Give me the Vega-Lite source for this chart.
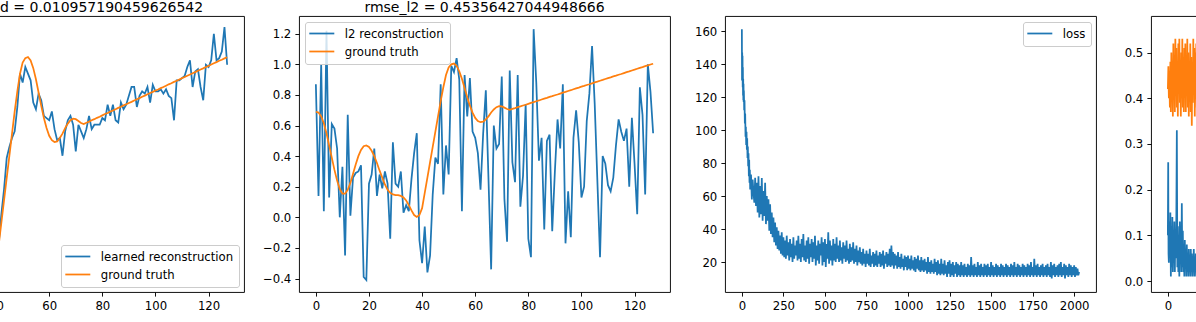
{
"$schema": "https://vega.github.io/schema/vega-lite/v6.json",
"usermeta": {"embedOptions": {"actions": false}},
"background": "white",
"autosize": {"type": "pad"},
"padding": {"left": -128, "top": 0, "right": -326, "bottom": 0},
"bounds": "flush",
"spacing": 55,
"resolve": {"scale": {"x": "independent", "y": "independent", "color": "independent"}, "legend": {"color": "independent"}},
"config": {
  "font": "DejaVu Sans",
  "view": {"stroke": "black", "strokeWidth": 0.93},
  "axis": {"domain": false, "grid": false, "ticks": true, "tickColor": "black", "tickSize": 4.1, "tickWidth": 0.93, "labelFont": "DejaVu Sans", "labelFontSize": 11.7, "labelColor": "black", "labelPadding": 4.1, "labelFlush": false, "labelOverlap": false},
  "title": {"font": "DejaVu Sans", "fontSize": 14, "fontWeight": "normal", "color": "black", "anchor": "middle", "frame": "group", "offset": 1, "baseline": "alphabetic"},
  "legend": {"labelFont": "DejaVu Sans", "labelFontSize": 11.7, "labelColor": "black", "symbolType": "M-2.5,0H2.5", "symbolSize": 100, "symbolStrokeWidth": 1.75, "symbolOffset": 5.3, "labelOffset": 17, "padding": 5.5, "rowPadding": 5, "fillColor": "rgba(255,255,255,0.8)", "strokeColor": "#cccccc", "cornerRadius": 2.5, "offset": 5.5}
},
"datasets": {
"signals": [
{"x":0,"y":0.69,"series":"ground truth"},{"x":1,"y":0.685,"series":"ground truth"},{"x":2,"y":0.66,"series":"ground truth"},{"x":3,"y":0.615,"series":"ground truth"},{"x":4,"y":0.55,"series":"ground truth"},{"x":5,"y":0.47,"series":"ground truth"},{"x":6,"y":0.39,"series":"ground truth"},{"x":7,"y":0.31,"series":"ground truth"},{"x":8,"y":0.24,"series":"ground truth"},{"x":9,"y":0.185,"series":"ground truth"},
{"x":10,"y":0.155,"series":"ground truth"},{"x":11,"y":0.155,"series":"ground truth"},{"x":12,"y":0.18,"series":"ground truth"},{"x":13,"y":0.225,"series":"ground truth"},{"x":14,"y":0.285,"series":"ground truth"},{"x":15,"y":0.345,"series":"ground truth"},{"x":16,"y":0.40,"series":"ground truth"},{"x":17,"y":0.44,"series":"ground truth"},{"x":18,"y":0.465,"series":"ground truth"},{"x":19,"y":0.47,"series":"ground truth"},
{"x":20,"y":0.46,"series":"ground truth"},{"x":21,"y":0.435,"series":"ground truth"},{"x":22,"y":0.40,"series":"ground truth"},{"x":23,"y":0.355,"series":"ground truth"},{"x":24,"y":0.305,"series":"ground truth"},{"x":25,"y":0.26,"series":"ground truth"},{"x":26,"y":0.215,"series":"ground truth"},{"x":27,"y":0.18,"series":"ground truth"},{"x":28,"y":0.16,"series":"ground truth"},{"x":29,"y":0.15,"series":"ground truth"},
{"x":30,"y":0.145,"series":"ground truth"},{"x":31,"y":0.145,"series":"ground truth"},{"x":32,"y":0.14,"series":"ground truth"},{"x":33,"y":0.13,"series":"ground truth"},{"x":34,"y":0.11,"series":"ground truth"},{"x":35,"y":0.08,"series":"ground truth"},{"x":36,"y":0.045,"series":"ground truth"},{"x":37,"y":0.015,"series":"ground truth"},{"x":38,"y":0.003,"series":"ground truth"},{"x":39,"y":0.015,"series":"ground truth"},
{"x":40,"y":0.06,"series":"ground truth"},{"x":41,"y":0.16,"series":"ground truth"},{"x":42,"y":0.26,"series":"ground truth"},{"x":43,"y":0.36,"series":"ground truth"},{"x":44,"y":0.46,"series":"ground truth"},{"x":45,"y":0.56,"series":"ground truth"},{"x":46,"y":0.66,"series":"ground truth"},{"x":47,"y":0.76,"series":"ground truth"},{"x":48,"y":0.85,"series":"ground truth"},{"x":49,"y":0.93,"series":"ground truth"},
{"x":50,"y":0.98,"series":"ground truth"},{"x":51,"y":1.0,"series":"ground truth"},{"x":52,"y":1.005,"series":"ground truth"},{"x":53,"y":0.99,"series":"ground truth"},{"x":54,"y":0.955,"series":"ground truth"},{"x":55,"y":0.905,"series":"ground truth"},{"x":56,"y":0.845,"series":"ground truth"},{"x":57,"y":0.785,"series":"ground truth"},{"x":58,"y":0.73,"series":"ground truth"},{"x":59,"y":0.685,"series":"ground truth"},
{"x":60,"y":0.65,"series":"ground truth"},{"x":61,"y":0.63,"series":"ground truth"},{"x":62,"y":0.622,"series":"ground truth"},{"x":63,"y":0.625,"series":"ground truth"},{"x":64,"y":0.64,"series":"ground truth"},{"x":65,"y":0.66,"series":"ground truth"},{"x":66,"y":0.685,"series":"ground truth"},{"x":67,"y":0.705,"series":"ground truth"},{"x":68,"y":0.72,"series":"ground truth"},{"x":69,"y":0.727,"series":"ground truth"},
{"x":70,"y":0.725,"series":"ground truth"},{"x":71,"y":0.717,"series":"ground truth"},{"x":72,"y":0.708,"series":"ground truth"},{"x":73,"y":0.703,"series":"ground truth"},{"x":74,"y":0.709,"series":"ground truth"},{"x":75,"y":0.714,"series":"ground truth"},{"x":76,"y":0.72,"series":"ground truth"},{"x":77,"y":0.725,"series":"ground truth"},{"x":78,"y":0.731,"series":"ground truth"},{"x":79,"y":0.736,"series":"ground truth"},
{"x":80,"y":0.742,"series":"ground truth"},{"x":81,"y":0.748,"series":"ground truth"},{"x":82,"y":0.753,"series":"ground truth"},{"x":83,"y":0.759,"series":"ground truth"},{"x":84,"y":0.764,"series":"ground truth"},{"x":85,"y":0.77,"series":"ground truth"},{"x":86,"y":0.776,"series":"ground truth"},{"x":87,"y":0.781,"series":"ground truth"},{"x":88,"y":0.787,"series":"ground truth"},{"x":89,"y":0.792,"series":"ground truth"},
{"x":90,"y":0.798,"series":"ground truth"},{"x":91,"y":0.803,"series":"ground truth"},{"x":92,"y":0.809,"series":"ground truth"},{"x":93,"y":0.815,"series":"ground truth"},{"x":94,"y":0.82,"series":"ground truth"},{"x":95,"y":0.826,"series":"ground truth"},{"x":96,"y":0.831,"series":"ground truth"},{"x":97,"y":0.837,"series":"ground truth"},{"x":98,"y":0.843,"series":"ground truth"},{"x":99,"y":0.848,"series":"ground truth"},
{"x":100,"y":0.854,"series":"ground truth"},{"x":101,"y":0.859,"series":"ground truth"},{"x":102,"y":0.865,"series":"ground truth"},{"x":103,"y":0.87,"series":"ground truth"},{"x":104,"y":0.876,"series":"ground truth"},{"x":105,"y":0.882,"series":"ground truth"},{"x":106,"y":0.887,"series":"ground truth"},{"x":107,"y":0.893,"series":"ground truth"},{"x":108,"y":0.898,"series":"ground truth"},{"x":109,"y":0.904,"series":"ground truth"},
{"x":110,"y":0.91,"series":"ground truth"},{"x":111,"y":0.915,"series":"ground truth"},{"x":112,"y":0.921,"series":"ground truth"},{"x":113,"y":0.926,"series":"ground truth"},{"x":114,"y":0.932,"series":"ground truth"},{"x":115,"y":0.937,"series":"ground truth"},{"x":116,"y":0.943,"series":"ground truth"},{"x":117,"y":0.949,"series":"ground truth"},{"x":118,"y":0.954,"series":"ground truth"},{"x":119,"y":0.96,"series":"ground truth"},
{"x":120,"y":0.965,"series":"ground truth"},{"x":121,"y":0.971,"series":"ground truth"},{"x":122,"y":0.977,"series":"ground truth"},{"x":123,"y":0.982,"series":"ground truth"},{"x":124,"y":0.988,"series":"ground truth"},{"x":125,"y":0.993,"series":"ground truth"},{"x":126,"y":0.999,"series":"ground truth"},{"x":127,"y":1.004,"series":"ground truth"},
{"x":0,"y":0.87,"series":"l2 reconstruction"},{"x":1,"y":0.14,"series":"l2 reconstruction"},{"x":2,"y":1.0,"series":"l2 reconstruction"},{"x":3,"y":0.04,"series":"l2 reconstruction"},{"x":4,"y":1.22,"series":"l2 reconstruction"},{"x":5,"y":0.13,"series":"l2 reconstruction"},{"x":6,"y":0.61,"series":"l2 reconstruction"},{"x":7,"y":0.58,"series":"l2 reconstruction"},{"x":8,"y":0.45,"series":"l2 reconstruction"},{"x":9,"y":0.0,"series":"l2 reconstruction"},
{"x":10,"y":0.33,"series":"l2 reconstruction"},{"x":11,"y":-0.25,"series":"l2 reconstruction"},{"x":12,"y":0.67,"series":"l2 reconstruction"},{"x":13,"y":0.01,"series":"l2 reconstruction"},{"x":14,"y":0.26,"series":"l2 reconstruction"},{"x":15,"y":0.29,"series":"l2 reconstruction"},{"x":16,"y":0.30,"series":"l2 reconstruction"},{"x":17,"y":0.34,"series":"l2 reconstruction"},{"x":18,"y":-0.39,"series":"l2 reconstruction"},{"x":19,"y":-0.41,"series":"l2 reconstruction"},
{"x":20,"y":0.22,"series":"l2 reconstruction"},{"x":21,"y":0.28,"series":"l2 reconstruction"},{"x":22,"y":0.45,"series":"l2 reconstruction"},{"x":23,"y":0.14,"series":"l2 reconstruction"},{"x":24,"y":0.28,"series":"l2 reconstruction"},{"x":25,"y":0.19,"series":"l2 reconstruction"},{"x":26,"y":0.30,"series":"l2 reconstruction"},{"x":27,"y":0.22,"series":"l2 reconstruction"},{"x":28,"y":-0.14,"series":"l2 reconstruction"},{"x":29,"y":0.49,"series":"l2 reconstruction"},
{"x":30,"y":0.22,"series":"l2 reconstruction"},{"x":31,"y":0.20,"series":"l2 reconstruction"},{"x":32,"y":0.30,"series":"l2 reconstruction"},{"x":33,"y":0.03,"series":"l2 reconstruction"},{"x":34,"y":0.08,"series":"l2 reconstruction"},{"x":35,"y":0.04,"series":"l2 reconstruction"},{"x":36,"y":0.25,"series":"l2 reconstruction"},{"x":37,"y":0.42,"series":"l2 reconstruction"},{"x":38,"y":0.55,"series":"l2 reconstruction"},{"x":39,"y":-0.15,"series":"l2 reconstruction"},
{"x":40,"y":-0.30,"series":"l2 reconstruction"},{"x":41,"y":-0.06,"series":"l2 reconstruction"},{"x":42,"y":-0.36,"series":"l2 reconstruction"},{"x":43,"y":-0.25,"series":"l2 reconstruction"},{"x":44,"y":0.15,"series":"l2 reconstruction"},{"x":45,"y":0.39,"series":"l2 reconstruction"},{"x":46,"y":0.35,"series":"l2 reconstruction"},{"x":47,"y":0.87,"series":"l2 reconstruction"},{"x":48,"y":0.15,"series":"l2 reconstruction"},{"x":49,"y":0.47,"series":"l2 reconstruction"},
{"x":50,"y":0.28,"series":"l2 reconstruction"},{"x":51,"y":0.99,"series":"l2 reconstruction"},{"x":52,"y":0.95,"series":"l2 reconstruction"},{"x":53,"y":1.04,"series":"l2 reconstruction"},{"x":54,"y":0.90,"series":"l2 reconstruction"},{"x":55,"y":0.04,"series":"l2 reconstruction"},{"x":56,"y":0.93,"series":"l2 reconstruction"},{"x":57,"y":0.66,"series":"l2 reconstruction"},{"x":58,"y":0.91,"series":"l2 reconstruction"},{"x":59,"y":0.56,"series":"l2 reconstruction"},
{"x":60,"y":0.52,"series":"l2 reconstruction"},{"x":61,"y":0.42,"series":"l2 reconstruction"},{"x":62,"y":0.18,"series":"l2 reconstruction"},{"x":63,"y":0.55,"series":"l2 reconstruction"},{"x":64,"y":0.83,"series":"l2 reconstruction"},{"x":65,"y":0.25,"series":"l2 reconstruction"},{"x":66,"y":-0.34,"series":"l2 reconstruction"},{"x":67,"y":0.60,"series":"l2 reconstruction"},{"x":68,"y":0.45,"series":"l2 reconstruction"},{"x":69,"y":0.48,"series":"l2 reconstruction"},
{"x":70,"y":0.92,"series":"l2 reconstruction"},{"x":71,"y":0.12,"series":"l2 reconstruction"},{"x":72,"y":-0.16,"series":"l2 reconstruction"},{"x":73,"y":0.96,"series":"l2 reconstruction"},{"x":74,"y":0.36,"series":"l2 reconstruction"},{"x":75,"y":0.23,"series":"l2 reconstruction"},{"x":76,"y":0.93,"series":"l2 reconstruction"},{"x":77,"y":0.07,"series":"l2 reconstruction"},{"x":78,"y":0.27,"series":"l2 reconstruction"},{"x":79,"y":0.74,"series":"l2 reconstruction"},
{"x":80,"y":-0.14,"series":"l2 reconstruction"},{"x":81,"y":-0.26,"series":"l2 reconstruction"},{"x":82,"y":1.23,"series":"l2 reconstruction"},{"x":83,"y":0.88,"series":"l2 reconstruction"},{"x":84,"y":0.37,"series":"l2 reconstruction"},{"x":85,"y":0.52,"series":"l2 reconstruction"},{"x":86,"y":-0.08,"series":"l2 reconstruction"},{"x":87,"y":0.50,"series":"l2 reconstruction"},{"x":88,"y":0.54,"series":"l2 reconstruction"},{"x":89,"y":-0.09,"series":"l2 reconstruction"},
{"x":90,"y":0.30,"series":"l2 reconstruction"},{"x":91,"y":0.64,"series":"l2 reconstruction"},{"x":92,"y":0.45,"series":"l2 reconstruction"},{"x":93,"y":0.87,"series":"l2 reconstruction"},{"x":94,"y":-0.17,"series":"l2 reconstruction"},{"x":95,"y":0.17,"series":"l2 reconstruction"},{"x":96,"y":-0.13,"series":"l2 reconstruction"},{"x":97,"y":0.52,"series":"l2 reconstruction"},{"x":98,"y":0.70,"series":"l2 reconstruction"},{"x":99,"y":0.49,"series":"l2 reconstruction"},
{"x":100,"y":0.13,"series":"l2 reconstruction"},{"x":101,"y":0.20,"series":"l2 reconstruction"},{"x":102,"y":0.63,"series":"l2 reconstruction"},{"x":103,"y":0.81,"series":"l2 reconstruction"},{"x":104,"y":1.12,"series":"l2 reconstruction"},{"x":105,"y":0.74,"series":"l2 reconstruction"},{"x":106,"y":0.24,"series":"l2 reconstruction"},{"x":107,"y":-0.26,"series":"l2 reconstruction"},{"x":108,"y":0.40,"series":"l2 reconstruction"},{"x":109,"y":0.35,"series":"l2 reconstruction"},
{"x":110,"y":0.21,"series":"l2 reconstruction"},{"x":111,"y":0.17,"series":"l2 reconstruction"},{"x":112,"y":0.26,"series":"l2 reconstruction"},{"x":113,"y":0.47,"series":"l2 reconstruction"},{"x":114,"y":0.64,"series":"l2 reconstruction"},{"x":115,"y":0.56,"series":"l2 reconstruction"},{"x":116,"y":0.50,"series":"l2 reconstruction"},{"x":117,"y":0.58,"series":"l2 reconstruction"},{"x":118,"y":0.20,"series":"l2 reconstruction"},{"x":119,"y":0.65,"series":"l2 reconstruction"},
{"x":120,"y":0.35,"series":"l2 reconstruction"},{"x":121,"y":0.02,"series":"l2 reconstruction"},{"x":122,"y":0.85,"series":"l2 reconstruction"},{"x":123,"y":0.67,"series":"l2 reconstruction"},{"x":124,"y":0.15,"series":"l2 reconstruction"},{"x":125,"y":1.00,"series":"l2 reconstruction"},{"x":126,"y":0.82,"series":"l2 reconstruction"},{"x":127,"y":0.55,"series":"l2 reconstruction"},
{"x":41,"y":0.17,"series":"learned reconstruction"},{"x":42,"y":0.30,"series":"learned reconstruction"},{"x":43,"y":0.41,"series":"learned reconstruction"},{"x":44,"y":0.55,"series":"learned reconstruction"},{"x":45,"y":0.60,"series":"learned reconstruction"},{"x":46,"y":0.64,"series":"learned reconstruction"},{"x":47,"y":0.67,"series":"learned reconstruction"},{"x":48,"y":0.78,"series":"learned reconstruction"},{"x":49,"y":0.93,"series":"learned reconstruction"},
{"x":50,"y":0.89,"series":"learned reconstruction"},{"x":51,"y":0.96,"series":"learned reconstruction"},{"x":52,"y":0.93,"series":"learned reconstruction"},{"x":53,"y":0.90,"series":"learned reconstruction"},{"x":54,"y":0.80,"series":"learned reconstruction"},{"x":55,"y":0.77,"series":"learned reconstruction"},{"x":56,"y":0.84,"series":"learned reconstruction"},{"x":57,"y":0.81,"series":"learned reconstruction"},{"x":58,"y":0.74,"series":"learned reconstruction"},{"x":59,"y":0.73,"series":"learned reconstruction"},
{"x":60,"y":0.72,"series":"learned reconstruction"},{"x":61,"y":0.76,"series":"learned reconstruction"},{"x":62,"y":0.68,"series":"learned reconstruction"},{"x":63,"y":0.63,"series":"learned reconstruction"},{"x":64,"y":0.64,"series":"learned reconstruction"},{"x":65,"y":0.56,"series":"learned reconstruction"},{"x":66,"y":0.67,"series":"learned reconstruction"},{"x":67,"y":0.72,"series":"learned reconstruction"},{"x":68,"y":0.74,"series":"learned reconstruction"},{"x":69,"y":0.70,"series":"learned reconstruction"},
{"x":70,"y":0.58,"series":"learned reconstruction"},{"x":71,"y":0.70,"series":"learned reconstruction"},{"x":72,"y":0.67,"series":"learned reconstruction"},{"x":73,"y":0.64,"series":"learned reconstruction"},{"x":74,"y":0.68,"series":"learned reconstruction"},{"x":75,"y":0.74,"series":"learned reconstruction"},{"x":76,"y":0.68,"series":"learned reconstruction"},{"x":77,"y":0.70,"series":"learned reconstruction"},{"x":78,"y":0.70,"series":"learned reconstruction"},{"x":79,"y":0.70,"series":"learned reconstruction"},
{"x":80,"y":0.73,"series":"learned reconstruction"},{"x":81,"y":0.72,"series":"learned reconstruction"},{"x":82,"y":0.79,"series":"learned reconstruction"},{"x":83,"y":0.74,"series":"learned reconstruction"},{"x":84,"y":0.79,"series":"learned reconstruction"},{"x":85,"y":0.72,"series":"learned reconstruction"},{"x":86,"y":0.71,"series":"learned reconstruction"},{"x":87,"y":0.80,"series":"learned reconstruction"},{"x":88,"y":0.77,"series":"learned reconstruction"},{"x":89,"y":0.79,"series":"learned reconstruction"},
{"x":90,"y":0.83,"series":"learned reconstruction"},{"x":91,"y":0.87,"series":"learned reconstruction"},{"x":92,"y":0.87,"series":"learned reconstruction"},{"x":93,"y":0.78,"series":"learned reconstruction"},{"x":94,"y":0.83,"series":"learned reconstruction"},{"x":95,"y":0.85,"series":"learned reconstruction"},{"x":96,"y":0.84,"series":"learned reconstruction"},{"x":97,"y":0.87,"series":"learned reconstruction"},{"x":98,"y":0.80,"series":"learned reconstruction"},{"x":99,"y":0.88,"series":"learned reconstruction"},
{"x":100,"y":0.85,"series":"learned reconstruction"},{"x":101,"y":0.85,"series":"learned reconstruction"},{"x":102,"y":0.86,"series":"learned reconstruction"},{"x":103,"y":0.84,"series":"learned reconstruction"},{"x":104,"y":0.86,"series":"learned reconstruction"},{"x":105,"y":0.83,"series":"learned reconstruction"},{"x":106,"y":0.82,"series":"learned reconstruction"},{"x":107,"y":0.72,"series":"learned reconstruction"},{"x":108,"y":0.90,"series":"learned reconstruction"},{"x":109,"y":0.90,"series":"learned reconstruction"},
{"x":110,"y":0.91,"series":"learned reconstruction"},{"x":111,"y":0.92,"series":"learned reconstruction"},{"x":112,"y":0.96,"series":"learned reconstruction"},{"x":113,"y":0.99,"series":"learned reconstruction"},{"x":114,"y":0.87,"series":"learned reconstruction"},{"x":115,"y":0.94,"series":"learned reconstruction"},{"x":116,"y":0.95,"series":"learned reconstruction"},{"x":117,"y":0.87,"series":"learned reconstruction"},{"x":118,"y":0.81,"series":"learned reconstruction"},{"x":119,"y":0.97,"series":"learned reconstruction"},
{"x":120,"y":0.96,"series":"learned reconstruction"},{"x":121,"y":0.99,"series":"learned reconstruction"},{"x":122,"y":1.11,"series":"learned reconstruction"},{"x":123,"y":0.99,"series":"learned reconstruction"},{"x":124,"y":1.0,"series":"learned reconstruction"},{"x":125,"y":1.03,"series":"learned reconstruction"},{"x":126,"y":1.14,"series":"learned reconstruction"},{"x":127,"y":0.97,"series":"learned reconstruction"}
],
"loss": [
{"step":0,"loss":161},{"step":1,"loss":130},{"step":2,"loss":147},{"step":3,"loss":133},{"step":4,"loss":145},{"step":5,"loss":126},{"step":6,"loss":138},{"step":7,"loss":121},{"step":8,"loss":131},{"step":9,"loss":118},{"step":10,"loss":128},{"step":11,"loss":117},{"step":12,"loss":124},{"step":13,"loss":119},{"step":14,"loss":112},{"step":16,"loss":118},{"step":18,"loss":104},{"step":20,"loss":110},{"step":22,"loss":96},{"step":24,"loss":102},{"step":26,"loss":91},{"step":28,"loss":99},{"step":30,"loss":88},{"step":32,"loss":95},{"step":34,"loss":83},{"step":36,"loss":90},{"step":38,"loss":78},
{"step":40,"loss":86},{"step":42,"loss":72},{"step":44,"loss":82},{"step":46,"loss":68},{"step":48,"loss":76},{"step":50,"loss":64},{"step":55,"loss":73},{"step":60,"loss":58},{"step":65,"loss":70},{"step":70,"loss":62},{"step":75,"loss":56},{"step":80,"loss":71},{"step":85,"loss":54},{"step":90,"loss":68},{"step":95,"loss":50},
{"step":100,"loss":72},{"step":105,"loss":47},{"step":110,"loss":66},{"step":115,"loss":49},{"step":120,"loss":71},{"step":125,"loss":45},{"step":130,"loss":63},{"step":135,"loss":48},{"step":140,"loss":68},{"step":145,"loss":43},{"step":150,"loss":60},{"step":155,"loss":45},{"step":160,"loss":58},{"step":165,"loss":39},{"step":170,"loss":55},{"step":175,"loss":37},{"step":180,"loss":50},{"step":185,"loss":35},{"step":190,"loss":47},{"step":195,"loss":32},
{"step":200,"loss":44},{"step":205,"loss":30},{"step":210,"loss":41},{"step":215,"loss":28},{"step":220,"loss":39},{"step":225,"loss":27},{"step":230,"loss":36},{"step":235,"loss":25},{"step":240,"loss":38},{"step":245,"loss":24},{"step":250,"loss":35},{"step":255,"loss":23},{"step":260,"loss":33},{"step":265,"loss":22},{"step":270,"loss":36},{"step":275,"loss":24},{"step":280,"loss":32},{"step":285,"loss":21},{"step":290,"loss":34},{"step":295,"loss":23},
{"step":300,"loss":31},{"step":305,"loss":20},{"step":310,"loss":35},{"step":315,"loss":22},{"step":320,"loss":30},{"step":325,"loss":24},{"step":330,"loss":33},{"step":335,"loss":21},{"step":340,"loss":36},{"step":345,"loss":22},{"step":350,"loss":31},{"step":355,"loss":20},{"step":360,"loss":34},{"step":365,"loss":23},{"step":370,"loss":37},{"step":375,"loss":21},{"step":380,"loss":30},{"step":385,"loss":20},{"step":390,"loss":33},{"step":395,"loss":22},
{"step":400,"loss":35},{"step":405,"loss":19},{"step":410,"loss":31},{"step":415,"loss":23},{"step":420,"loss":34},{"step":425,"loss":20},{"step":430,"loss":32},{"step":435,"loss":22},{"step":440,"loss":36},{"step":445,"loss":18},{"step":450,"loss":30},{"step":455,"loss":21},{"step":460,"loss":33},{"step":465,"loss":19},{"step":470,"loss":31},{"step":475,"loss":24},{"step":480,"loss":35},{"step":485,"loss":18},{"step":490,"loss":32},{"step":495,"loss":20},
{"step":500,"loss":34},{"step":505,"loss":17},{"step":510,"loss":31},{"step":515,"loss":22},{"step":520,"loss":38},{"step":525,"loss":19},{"step":530,"loss":33},{"step":535,"loss":21},{"step":540,"loss":30},{"step":545,"loss":18},{"step":550,"loss":34},{"step":555,"loss":21},{"step":560,"loss":31},{"step":565,"loss":20},{"step":570,"loss":35},{"step":575,"loss":22},{"step":580,"loss":30},{"step":585,"loss":20},{"step":590,"loss":33},{"step":595,"loss":21},
{"step":600,"loss":29},{"step":605,"loss":19},{"step":610,"loss":32},{"step":615,"loss":22},{"step":620,"loss":30},{"step":625,"loss":20},{"step":630,"loss":33},{"step":635,"loss":21},{"step":640,"loss":28},{"step":645,"loss":19},{"step":650,"loss":31},{"step":655,"loss":20},{"step":660,"loss":29},{"step":665,"loss":21},{"step":670,"loss":32},{"step":675,"loss":19},{"step":680,"loss":28},{"step":685,"loss":20},{"step":690,"loss":30},{"step":695,"loss":18},
{"step":700,"loss":27},{"step":705,"loss":20},{"step":710,"loss":29},{"step":715,"loss":19},{"step":720,"loss":26},{"step":725,"loss":18},{"step":730,"loss":28},{"step":735,"loss":19},{"step":740,"loss":25},{"step":745,"loss":17},{"step":750,"loss":27},{"step":755,"loss":19},{"step":760,"loss":25},{"step":765,"loss":18},{"step":770,"loss":28},{"step":775,"loss":17},{"step":780,"loss":24},{"step":785,"loss":19},{"step":790,"loss":26},{"step":795,"loss":17},
{"step":800,"loss":25},{"step":805,"loss":18},{"step":810,"loss":27},{"step":815,"loss":17},{"step":820,"loss":24},{"step":825,"loss":19},{"step":830,"loss":26},{"step":835,"loss":17},{"step":840,"loss":25},{"step":845,"loss":18},{"step":850,"loss":27},{"step":855,"loss":16},{"step":860,"loss":24},{"step":865,"loss":19},{"step":870,"loss":26},{"step":875,"loss":17},{"step":880,"loss":25},{"step":885,"loss":18},{"step":890,"loss":28},{"step":895,"loss":17},
{"step":900,"loss":30},{"step":905,"loss":18},{"step":910,"loss":26},{"step":915,"loss":16},{"step":920,"loss":25},{"step":925,"loss":18},{"step":930,"loss":24},{"step":935,"loss":16},{"step":940,"loss":26},{"step":945,"loss":17},{"step":950,"loss":23},{"step":955,"loss":16},{"step":960,"loss":25},{"step":965,"loss":17},{"step":970,"loss":22},{"step":975,"loss":15},{"step":980,"loss":24},{"step":985,"loss":17},{"step":990,"loss":23},{"step":995,"loss":15},
{"step":1000,"loss":24},{"step":1005,"loss":16},{"step":1010,"loss":22},{"step":1015,"loss":15},{"step":1020,"loss":24},{"step":1025,"loss":16},{"step":1030,"loss":21},{"step":1035,"loss":15},{"step":1040,"loss":23},{"step":1045,"loss":14},{"step":1050,"loss":22},{"step":1055,"loss":16},{"step":1060,"loss":24},{"step":1065,"loss":15},{"step":1070,"loss":21},{"step":1075,"loss":14},{"step":1080,"loss":23},{"step":1085,"loss":15},{"step":1090,"loss":21},{"step":1095,"loss":14},
{"step":1100,"loss":22},{"step":1105,"loss":15},{"step":1110,"loss":20},{"step":1115,"loss":13},{"step":1120,"loss":23},{"step":1125,"loss":14},{"step":1130,"loss":20},{"step":1135,"loss":13},{"step":1140,"loss":21},{"step":1145,"loss":14},{"step":1150,"loss":19},{"step":1155,"loss":13},{"step":1160,"loss":22},{"step":1165,"loss":14},{"step":1170,"loss":20},{"step":1175,"loss":12},{"step":1180,"loss":21},{"step":1185,"loss":13},{"step":1190,"loss":19},{"step":1195,"loss":12},
{"step":1200,"loss":22},{"step":1205,"loss":13},{"step":1210,"loss":19},{"step":1215,"loss":12},{"step":1220,"loss":21},{"step":1225,"loss":13},{"step":1230,"loss":18},{"step":1235,"loss":11},{"step":1240,"loss":20},{"step":1245,"loss":13},{"step":1250,"loss":21},{"step":1255,"loss":11},{"step":1260,"loss":19},{"step":1265,"loss":12},{"step":1270,"loss":20},{"step":1275,"loss":11},{"step":1280,"loss":18},{"step":1285,"loss":13},{"step":1290,"loss":20},{"step":1295,"loss":11},
{"step":1300,"loss":19},{"step":1305,"loss":12},{"step":1310,"loss":18},{"step":1315,"loss":11},{"step":1320,"loss":20},{"step":1325,"loss":12},{"step":1330,"loss":18},{"step":1335,"loss":11},{"step":1340,"loss":19},{"step":1345,"loss":12},{"step":1350,"loss":17},{"step":1355,"loss":11},{"step":1360,"loss":19},{"step":1365,"loss":12},{"step":1370,"loss":18},{"step":1375,"loss":11},{"step":1380,"loss":23},{"step":1385,"loss":12},{"step":1390,"loss":18},{"step":1395,"loss":11},
{"step":1400,"loss":19},{"step":1405,"loss":12},{"step":1410,"loss":17},{"step":1415,"loss":11},{"step":1420,"loss":20},{"step":1425,"loss":12},{"step":1430,"loss":18},{"step":1435,"loss":11},{"step":1440,"loss":19},{"step":1445,"loss":12},{"step":1450,"loss":17},{"step":1455,"loss":11},{"step":1460,"loss":19},{"step":1465,"loss":12},{"step":1470,"loss":18},{"step":1475,"loss":11},{"step":1480,"loss":19},{"step":1485,"loss":12},{"step":1490,"loss":17},{"step":1495,"loss":11},
{"step":1500,"loss":20},{"step":1505,"loss":12},{"step":1510,"loss":18},{"step":1515,"loss":11},{"step":1520,"loss":17},{"step":1525,"loss":12},{"step":1530,"loss":19},{"step":1535,"loss":11},{"step":1540,"loss":18},{"step":1545,"loss":12},{"step":1550,"loss":17},{"step":1555,"loss":11},{"step":1560,"loss":19},{"step":1565,"loss":12},{"step":1570,"loss":18},{"step":1575,"loss":11},{"step":1580,"loss":17},{"step":1585,"loss":12},{"step":1590,"loss":19},{"step":1595,"loss":11},
{"step":1600,"loss":18},{"step":1605,"loss":12},{"step":1610,"loss":17},{"step":1615,"loss":11},{"step":1620,"loss":19},{"step":1625,"loss":12},{"step":1630,"loss":18},{"step":1635,"loss":11},{"step":1640,"loss":20},{"step":1645,"loss":12},{"step":1650,"loss":17},{"step":1655,"loss":11},{"step":1660,"loss":19},{"step":1665,"loss":12},{"step":1670,"loss":18},{"step":1675,"loss":11},{"step":1680,"loss":17},{"step":1685,"loss":12},{"step":1690,"loss":19},{"step":1695,"loss":11},
{"step":1700,"loss":18},{"step":1705,"loss":12},{"step":1710,"loss":17},{"step":1715,"loss":11},{"step":1720,"loss":19},{"step":1725,"loss":12},{"step":1730,"loss":18},{"step":1735,"loss":11},{"step":1740,"loss":20},{"step":1745,"loss":12},{"step":1750,"loss":17},{"step":1755,"loss":11},{"step":1760,"loss":22},{"step":1765,"loss":12},{"step":1770,"loss":18},{"step":1775,"loss":11},{"step":1780,"loss":19},{"step":1785,"loss":12},{"step":1790,"loss":17},{"step":1795,"loss":11},
{"step":1800,"loss":18},{"step":1805,"loss":12},{"step":1810,"loss":19},{"step":1815,"loss":11},{"step":1820,"loss":17},{"step":1825,"loss":12},{"step":1830,"loss":18},{"step":1835,"loss":11},{"step":1840,"loss":19},{"step":1845,"loss":12},{"step":1850,"loss":17},{"step":1855,"loss":11},{"step":1860,"loss":20},{"step":1865,"loss":10},{"step":1870,"loss":18},{"step":1875,"loss":12},{"step":1880,"loss":19},{"step":1885,"loss":11},{"step":1890,"loss":17},{"step":1895,"loss":12},
{"step":1900,"loss":18},{"step":1905,"loss":11},{"step":1910,"loss":19},{"step":1915,"loss":12},{"step":1920,"loss":20},{"step":1925,"loss":11},{"step":1930,"loss":17},{"step":1935,"loss":12},{"step":1940,"loss":19},{"step":1945,"loss":10},{"step":1950,"loss":18},{"step":1955,"loss":12},{"step":1960,"loss":17},{"step":1965,"loss":11},{"step":1970,"loss":19},{"step":1975,"loss":12},{"step":1980,"loss":18},{"step":1985,"loss":11},{"step":1990,"loss":17},{"step":1995,"loss":12},
{"step":2000,"loss":18},{"step":2005,"loss":11},{"step":2010,"loss":17},{"step":2015,"loss":12},{"step":2020,"loss":16},{"step":2025,"loss":12},{"step":2030,"loss":14}
],
"rmse": [
{"step":0,"rmse":0.42,"series":"rmse_l2"},{"step":3,"rmse":0.47,"series":"rmse_l2"},{"step":6,"rmse":0.40,"series":"rmse_l2"},{"step":9,"rmse":0.46,"series":"rmse_l2"},{"step":12,"rmse":0.38,"series":"rmse_l2"},{"step":15,"rmse":0.48,"series":"rmse_l2"},{"step":18,"rmse":0.37,"series":"rmse_l2"},{"step":21,"rmse":0.50,"series":"rmse_l2"},{"step":24,"rmse":0.41,"series":"rmse_l2"},{"step":27,"rmse":0.47,"series":"rmse_l2"},
{"step":30,"rmse":0.36,"series":"rmse_l2"},{"step":33,"rmse":0.52,"series":"rmse_l2"},{"step":36,"rmse":0.40,"series":"rmse_l2"},{"step":39,"rmse":0.49,"series":"rmse_l2"},{"step":42,"rmse":0.37,"series":"rmse_l2"},{"step":45,"rmse":0.53,"series":"rmse_l2"},{"step":48,"rmse":0.42,"series":"rmse_l2"},{"step":51,"rmse":0.51,"series":"rmse_l2"},{"step":54,"rmse":0.38,"series":"rmse_l2"},{"step":57,"rmse":0.47,"series":"rmse_l2"},
{"step":60,"rmse":0.36,"series":"rmse_l2"},{"step":63,"rmse":0.52,"series":"rmse_l2"},{"step":66,"rmse":0.41,"series":"rmse_l2"},{"step":69,"rmse":0.53,"series":"rmse_l2"},{"step":72,"rmse":0.39,"series":"rmse_l2"},{"step":75,"rmse":0.48,"series":"rmse_l2"},{"step":78,"rmse":0.36,"series":"rmse_l2"},{"step":81,"rmse":0.50,"series":"rmse_l2"},{"step":84,"rmse":0.40,"series":"rmse_l2"},{"step":87,"rmse":0.53,"series":"rmse_l2"},
{"step":90,"rmse":0.38,"series":"rmse_l2"},{"step":93,"rmse":0.49,"series":"rmse_l2"},{"step":96,"rmse":0.37,"series":"rmse_l2"},{"step":99,"rmse":0.51,"series":"rmse_l2"},{"step":102,"rmse":0.42,"series":"rmse_l2"},{"step":105,"rmse":0.52,"series":"rmse_l2"},{"step":108,"rmse":0.37,"series":"rmse_l2"},{"step":111,"rmse":0.49,"series":"rmse_l2"},{"step":114,"rmse":0.41,"series":"rmse_l2"},{"step":117,"rmse":0.53,"series":"rmse_l2"},
{"step":120,"rmse":0.38,"series":"rmse_l2"},{"step":123,"rmse":0.50,"series":"rmse_l2"},{"step":126,"rmse":0.36,"series":"rmse_l2"},{"step":129,"rmse":0.48,"series":"rmse_l2"},{"step":132,"rmse":0.40,"series":"rmse_l2"},{"step":135,"rmse":0.52,"series":"rmse_l2"},{"step":138,"rmse":0.37,"series":"rmse_l2"},{"step":141,"rmse":0.49,"series":"rmse_l2"},{"step":144,"rmse":0.34,"series":"rmse_l2"},{"step":147,"rmse":0.47,"series":"rmse_l2"},
{"step":150,"rmse":0.39,"series":"rmse_l2"},{"step":153,"rmse":0.53,"series":"rmse_l2"},{"step":156,"rmse":0.41,"series":"rmse_l2"},{"step":159,"rmse":0.51,"series":"rmse_l2"},{"step":162,"rmse":0.36,"series":"rmse_l2"},{"step":165,"rmse":0.50,"series":"rmse_l2"},{"step":168,"rmse":0.40,"series":"rmse_l2"},{"step":171,"rmse":0.52,"series":"rmse_l2"},{"step":174,"rmse":0.38,"series":"rmse_l2"},{"step":177,"rmse":0.49,"series":"rmse_l2"},{"step":180,"rmse":0.42,"series":"rmse_l2"},
{"step":0,"rmse":0.10,"series":"rmse_learned"},{"step":2,"rmse":0.26,"series":"rmse_learned"},{"step":4,"rmse":0.06,"series":"rmse_learned"},{"step":6,"rmse":0.04,"series":"rmse_learned"},{"step":9,"rmse":0.13,"series":"rmse_learned"},{"step":12,"rmse":0.05,"series":"rmse_learned"},{"step":15,"rmse":0.15,"series":"rmse_learned"},{"step":18,"rmse":0.01,"series":"rmse_learned"},{"step":21,"rmse":0.12,"series":"rmse_learned"},{"step":24,"rmse":0.03,"series":"rmse_learned"},{"step":27,"rmse":0.14,"series":"rmse_learned"},
{"step":30,"rmse":0.02,"series":"rmse_learned"},{"step":33,"rmse":0.10,"series":"rmse_learned"},{"step":36,"rmse":0.04,"series":"rmse_learned"},{"step":39,"rmse":0.13,"series":"rmse_learned"},{"step":42,"rmse":0.02,"series":"rmse_learned"},{"step":45,"rmse":0.11,"series":"rmse_learned"},{"step":48,"rmse":0.05,"series":"rmse_learned"},{"step":51,"rmse":0.14,"series":"rmse_learned"},{"step":54,"rmse":0.33,"series":"rmse_learned"},{"step":57,"rmse":0.03,"series":"rmse_learned"},
{"step":60,"rmse":0.12,"series":"rmse_learned"},{"step":63,"rmse":0.02,"series":"rmse_learned"},{"step":66,"rmse":0.09,"series":"rmse_learned"},{"step":69,"rmse":0.01,"series":"rmse_learned"},{"step":72,"rmse":0.13,"series":"rmse_learned"},{"step":75,"rmse":0.04,"series":"rmse_learned"},{"step":78,"rmse":0.10,"series":"rmse_learned"},{"step":81,"rmse":0.02,"series":"rmse_learned"},{"step":84,"rmse":0.17,"series":"rmse_learned"},{"step":87,"rmse":0.03,"series":"rmse_learned"},
{"step":90,"rmse":0.11,"series":"rmse_learned"},{"step":93,"rmse":0.02,"series":"rmse_learned"},{"step":96,"rmse":0.08,"series":"rmse_learned"},{"step":99,"rmse":0.01,"series":"rmse_learned"},{"step":102,"rmse":0.09,"series":"rmse_learned"},{"step":105,"rmse":0.03,"series":"rmse_learned"},{"step":108,"rmse":0.07,"series":"rmse_learned"},{"step":111,"rmse":0.01,"series":"rmse_learned"},{"step":114,"rmse":0.08,"series":"rmse_learned"},{"step":117,"rmse":0.02,"series":"rmse_learned"},
{"step":120,"rmse":0.06,"series":"rmse_learned"},{"step":123,"rmse":0.01,"series":"rmse_learned"},{"step":126,"rmse":0.07,"series":"rmse_learned"},{"step":129,"rmse":0.02,"series":"rmse_learned"},{"step":132,"rmse":0.05,"series":"rmse_learned"},{"step":135,"rmse":0.01,"series":"rmse_learned"},{"step":138,"rmse":0.07,"series":"rmse_learned"},{"step":141,"rmse":0.02,"series":"rmse_learned"},{"step":144,"rmse":0.06,"series":"rmse_learned"},{"step":147,"rmse":0.01,"series":"rmse_learned"},
{"step":150,"rmse":0.05,"series":"rmse_learned"},{"step":153,"rmse":0.02,"series":"rmse_learned"},{"step":156,"rmse":0.07,"series":"rmse_learned"},{"step":159,"rmse":0.01,"series":"rmse_learned"},{"step":162,"rmse":0.05,"series":"rmse_learned"},{"step":165,"rmse":0.02,"series":"rmse_learned"},{"step":168,"rmse":0.06,"series":"rmse_learned"},{"step":171,"rmse":0.01,"series":"rmse_learned"},{"step":174,"rmse":0.05,"series":"rmse_learned"},{"step":177,"rmse":0.02,"series":"rmse_learned"},{"step":180,"rmse":0.06,"series":"rmse_learned"}
]
},
"hconcat": [
{
  "width": 371, "height": 276,
  "title": "rmse_learned = 0.010957190459626542",
  "data": {"name": "signals"},
  "encoding": {
    "x": {"field": "x", "type": "quantitative", "title": null, "scale": {"domain": [-6.35, 133.35], "nice": false, "zero": false}, "axis": {"values": [0, 20, 40, 60, 80, 100, 120], "format": "d"}},
    "y": {"field": "y", "type": "quantitative", "title": null, "scale": {"domain": [-0.054, 1.19], "nice": false, "zero": false}, "axis": null},
    "color": {"field": "series", "type": "nominal", "scale": {"domain": ["learned reconstruction", "ground truth"], "range": ["#1f77b4", "#ff7f0e"]}, "legend": {"orient": "bottom-right", "title": null}}
  },
  "layer": [
    {"transform": [{"filter": "datum.series === 'learned reconstruction'"}], "mark": {"type": "line", "strokeWidth": 1.75}},
    {"transform": [{"filter": "datum.series === 'ground truth'"}], "mark": {"type": "line", "strokeWidth": 1.75}}
  ]
},
{
  "width": 371, "height": 276,
  "title": "rmse_l2 = 0.45356427044948666",
  "data": {"name": "signals"},
  "encoding": {
    "x": {"field": "x", "type": "quantitative", "title": null, "scale": {"domain": [-6.35, 133.35], "nice": false, "zero": false}, "axis": {"values": [0, 20, 40, 60, 80, 100, 120], "format": "d"}},
    "y": {"field": "y", "type": "quantitative", "title": null, "scale": {"domain": [-0.488, 1.316], "nice": false, "zero": false}, "axis": {"values": [-0.4, -0.2, 0, 0.2, 0.4, 0.6, 0.8, 1.0, 1.2], "labelExpr": "replace(format(datum.value, '.1f'), '-', '\u2212')"}},
    "color": {"field": "series", "type": "nominal", "scale": {"domain": ["l2 reconstruction", "ground truth"], "range": ["#1f77b4", "#ff7f0e"]}, "legend": {"orient": "top-left", "title": null}}
  },
  "layer": [
    {"transform": [{"filter": "datum.series === 'l2 reconstruction'"}], "mark": {"type": "line", "strokeWidth": 1.75}},
    {"transform": [{"filter": "datum.series === 'ground truth'"}], "mark": {"type": "line", "strokeWidth": 1.75}}
  ]
},
{
  "width": 371, "height": 276,
  "data": {"name": "loss"},
  "mark": {"type": "line", "strokeWidth": 1.75},
  "encoding": {
    "x": {"field": "step", "type": "quantitative", "title": null, "scale": {"domain": [-101.5, 2131.5], "nice": false, "zero": false}, "axis": {"values": [0, 250, 500, 750, 1000, 1250, 1500, 1750, 2000], "format": "d"}},
    "y": {"field": "loss", "type": "quantitative", "title": null, "scale": {"domain": [1.86, 169.1], "nice": false, "zero": false}, "axis": {"values": [20, 40, 60, 80, 100, 120, 140, 160], "format": "d"}},
    "color": {"datum": "loss", "type": "nominal", "scale": {"domain": ["loss"], "range": ["#1f77b4"]}, "legend": {"orient": "top-right", "title": null}}
  }
},
{
  "width": 371, "height": 276,
  "data": {"name": "rmse"},
  "mark": {"type": "line", "strokeWidth": 1.75},
  "encoding": {
    "x": {"field": "step", "type": "quantitative", "title": null, "scale": {"domain": [-101.5, 2131.5], "nice": false, "zero": false}, "axis": {"values": [0, 250, 500, 750, 1000, 1250, 1500, 1750, 2000], "format": "d"}},
    "y": {"field": "rmse", "type": "quantitative", "title": null, "scale": {"domain": [-0.024, 0.58], "nice": false, "zero": false}, "axis": {"values": [0, 0.1, 0.2, 0.3, 0.4, 0.5], "format": ".1f"}},
    "color": {"field": "series", "type": "nominal", "scale": {"domain": ["rmse_learned", "rmse_l2"], "range": ["#1f77b4", "#ff7f0e"]}, "legend": null}
  }
}
]
}
